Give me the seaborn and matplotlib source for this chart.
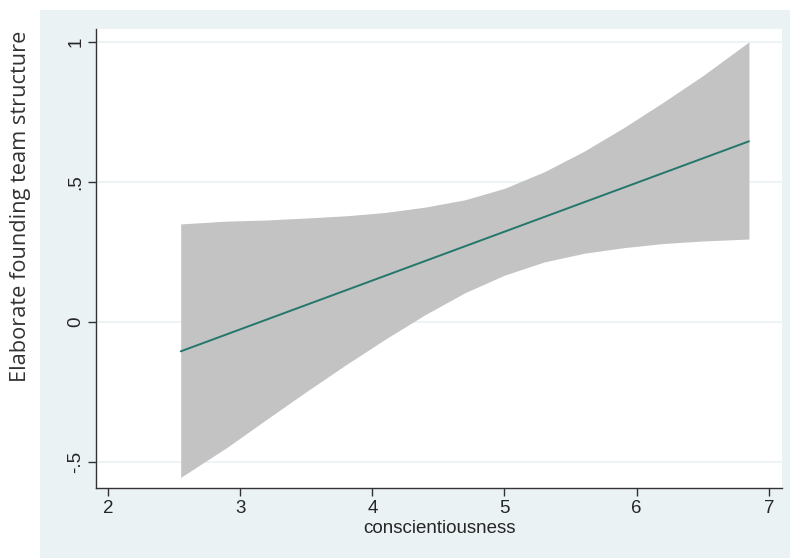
import numpy as np
import pandas as pd
import matplotlib.pyplot as plt
import matplotlib.patches as mpatches
import seaborn as sns

# fitted line (end points) and confidence band
fit_x = [2.55, 6.85]
fit_y = [-0.105, 0.645]

band_x = [2.55, 2.9, 3.2, 3.5, 3.8, 4.1, 4.4, 4.7, 5.0, 5.3, 5.6, 5.9, 6.2, 6.5, 6.85]
band_lo = [-0.555, -0.448, -0.348, -0.249, -0.153, -0.061, 0.026, 0.104, 0.167,
           0.214, 0.245, 0.265, 0.280, 0.289, 0.296]
band_hi = [0.350, 0.360, 0.364, 0.371, 0.379, 0.391, 0.410, 0.436, 0.477,
           0.536, 0.609, 0.693, 0.784, 0.879, 1.000]

xticks = [2, 3, 4, 5, 6, 7]
yticks = [-0.5, 0, 0.5, 1]
ytick_labels = ["-.5", "0", ".5", "1"]

sns.set_style("white")
plt.rcParams["font.family"] = ["Liberation Sans", "DejaVu Sans"]

W, H = 790, 558
fig = plt.figure(figsize=(W / 100, H / 100), dpi=100, facecolor="white")

# Stata-like graph region (light bluish gray)
fig.patches.append(mpatches.Rectangle((40 / W, 0), 750 / W, 1 - 10 / H,
                                      transform=fig.transFigure,
                                      facecolor="#EAF2F3", edgecolor="none", zorder=-10))

ax = fig.add_axes([96 / W, (H - 488) / H, (782 - 96) / W, (488 - 29) / H])
ax.set_zorder(5)
ax.set_facecolor("white")

ax.fill_between(band_x, band_lo, band_hi, color="#C3C3C3", linewidth=0, zorder=2)
df = pd.DataFrame({"x": fit_x, "y": fit_y})
sns.lineplot(data=df, x="x", y="y", ax=ax, color="#23776B", lw=1.4, zorder=3)

ax.set_xlim(1.909, 7.1)
ax.set_ylim(-0.593, 1.046)
ax.set_xticks(xticks)
ax.set_xticklabels([str(t) for t in xticks], fontsize=13.5)
ax.set_yticks(yticks)
ax.set_yticklabels(ytick_labels, fontsize=13.5, rotation=90, va="center")

for y in yticks:
    ax.axhline(y, color="#EAF2F3", lw=1.2, zorder=1)

ax.tick_params(axis="both", direction="out", length=5.5, width=1, color="#333333",
               bottom=True, left=True, pad=3)
for side in ["top", "right"]:
    ax.spines[side].set_visible(False)
for side in ["left", "bottom"]:
    ax.spines[side].set_color("#333333")
    ax.spines[side].set_linewidth(1)

ax.set_xlabel("conscientiousness", fontsize=13.5, labelpad=2)
ax.set_ylabel("")
fig.text(21 / W, (H - 206) / H, "Elaborate founding team structure", rotation=90,
         ha="center", va="center", fontsize=15.7,
         family=["Open Sans", "DejaVu Sans"], color="#333333")

fig.savefig("out.png", dpi=100, facecolor="white")
